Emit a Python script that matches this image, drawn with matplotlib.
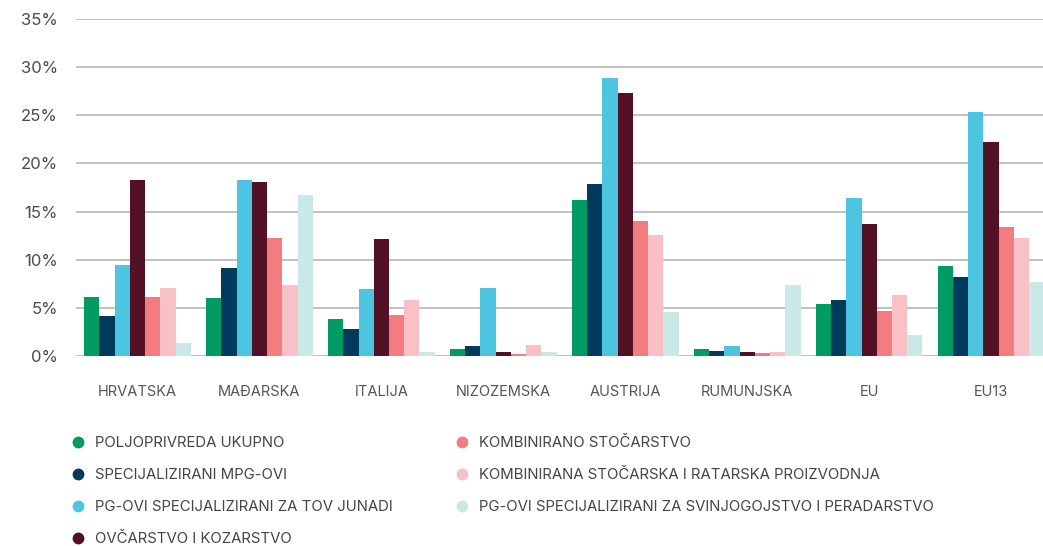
import matplotlib
matplotlib.use('Agg')
import matplotlib.pyplot as plt
import numpy as np
from matplotlib.lines import Line2D

plt.rcParams['font.family'] = ['Inter', 'DejaVu Sans']

categories = ['HRVATSKA', 'MAĐARSKA', 'ITALIJA', 'NIZOZEMSKA', 'AUSTRIJA', 'RUMUNJSKA', 'EU', 'EU13']

series_names = [
    'POLJOPRIVREDA UKUPNO',
    'SPECIJALIZIRANI MPG-OVI',
    'PG-OVI SPECIJALIZIRANI ZA TOV JUNADI',
    'OVČARSTVO I KOZARSTVO',
    'KOMBINIRANO STOČARSTVO',
    'KOMBINIRANA STOČARSKA I RATARSKA PROIZVODNJA',
    'PG-OVI SPECIJALIZIRANI ZA SVINJOGOJSTVO I PERADARSTVO',
]

poljoprivreda = [6.1, 6.0, 3.85, 0.75, 16.2, 0.75, 5.4, 9.35]
mpg = [4.2, 9.1, 2.8, 1.05, 17.9, 0.55, 5.8, 8.2]
tov_junadi = [9.45, 18.3, 6.95, 7.05, 28.9, 1.05, 16.4, 25.35]
ovcarstvo = [18.3, 18.1, 12.15, 0.45, 27.3, 0.45, 13.7, 22.2]
kombinirano = [6.1, 12.25, 4.25, 0.25, 14.0, 0.3, 4.7, 13.4]
stoc_ratarska = [7.05, 7.4, 5.8, 1.15, 12.55, 0.45, 6.35, 12.25]
svinje_perad = [1.35, 16.7, 0.4, 0.45, 4.55, 7.4, 2.2, 7.7]

colors = ['#009A63', '#003A5D', '#4EC5E0', '#521124', '#F27C80', '#F9C0C6', '#C9E9E6']

data = [poljoprivreda, mpg, tov_junadi, ovcarstvo, kombinirano, stoc_ratarska, svinje_perad]

fig = plt.figure(figsize=(10.43, 5.46), dpi=100)
ax = fig.add_axes([0.0729, 0.348, 0.927, 0.617])

x = np.arange(len(categories))
w = 1 / 8
for i, (vals, c) in enumerate(zip(data, colors)):
    ax.bar(x + (i - 3) * w, vals, width=w, color=c, zorder=3, linewidth=0)

ax.set_ylim(0, 35)
ax.set_xlim(-0.504, 7.425)
ax.set_yticks(np.arange(0, 36, 5))
ax.set_yticklabels([f'{v}%' for v in range(0, 36, 5)])
ax.set_xticks(x)
ax.set_xticklabels(categories)
ax.grid(axis='y', color='#bcbcbc', linewidth=1.3, zorder=0)
for s in ax.spines.values():
    s.set_visible(False)
ax.tick_params(axis='y', length=0, pad=13, labelsize=12, labelcolor='#4a4a4a')
ax.tick_params(axis='x', length=0, pad=21, labelsize=10.5, labelcolor='#555555')

# legend in two columns, first four on the left
handles = [Line2D([], [], marker='o', linestyle='', markersize=7.5, color=c) for c in colors]
leg_kw = dict(loc='upper left', frameon=False, handletextpad=0.64, labelspacing=1.2,
              fontsize=10.75, handlelength=1.0, borderaxespad=0, borderpad=0)
leg1 = fig.legend(handles[:4], series_names[:4], bbox_to_anchor=(0.0676, 0.201), **leg_kw)
leg2 = fig.legend(handles[4:], series_names[4:], bbox_to_anchor=(0.4358, 0.201), **leg_kw)
for leg in (leg1, leg2):
    for t in leg.get_texts():
        t.set_color('#444444')

fig.savefig('out.png', dpi=100)
